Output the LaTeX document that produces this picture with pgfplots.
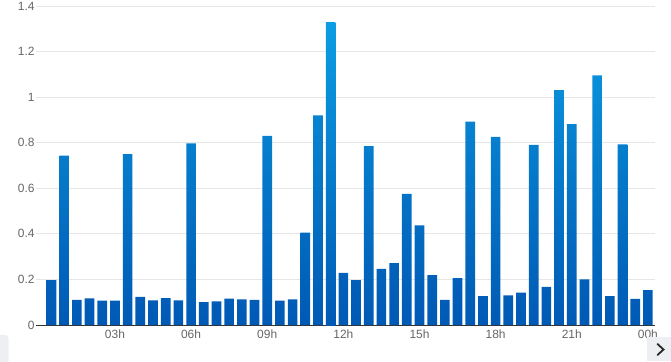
\documentclass[border=0pt]{standalone}
\usepackage{pgfplots}
\pgfplotsset{compat=1.18}
\usepackage{fontspec}
\setmainfont{Liberation Sans}
\definecolor{cLow}{HTML}{005AB5}
\definecolor{cHigh}{HTML}{0C9DE3}
\definecolor{gridc}{HTML}{E6E6E6}
\definecolor{labc}{HTML}{666666}
\definecolor{axc}{HTML}{333333}
\definecolor{btn}{HTML}{EDEFF2}
\colorlet{topA}{cHigh!12!cLow}
\colorlet{topB}{cHigh!36!cLow}
\colorlet{topC}{cHigh!62!cLow}
\colorlet{topD}{cHigh!80!cLow}
\colorlet{topE}{cHigh}
\begin{document}
\begin{tikzpicture}[x=1bp,y=1bp]
\useasboundingbox (0,0) rectangle (671,361);
\begin{axis}[
  at={(36bp,36bp)}, anchor=south west,
  scale only axis, width=619bp, height=319bp,
  xmin=-0.11, xmax=24.28, ymin=0, ymax=1.4,
  axis x line*=bottom, axis y line*=left,
  x axis line style={draw=axc, line width=0.9pt, -},
  y axis line style={draw=none},
  tick style={draw=none},
  xtick={3,6,9,12,15,18,21,24},
  xticklabels={03h,06h,09h,12h,15h,18h,21h,00h},
  ytick={0,0.2,0.4,0.6,0.8,1,1.2,1.4},
  yticklabels={0,0.2,0.4,0.6,0.8,1,1.2,1.4},
  ymajorgrids, grid style={draw=gridc, line width=0.8pt},
  tick label style={font=\fontsize{12}{14}\selectfont, text=labc},
  yticklabel style={anchor=east, xshift=2bp},
  xticklabel style={anchor=north, yshift=-1bp},
  clip=false,
]
\addplot[ybar, bar width=0.38, bar shift=0pt, draw=none, bottom color=cLow, top color=topA] coordinates {
(0.5,0.197) (1.5,0.11) (2.0,0.117) (2.5,0.107) (3.0,0.107) (4.0,0.123)
(4.5,0.108) (5.0,0.118) (5.5,0.108) (6.5,0.100) (7.0,0.104) (7.5,0.116)
(8.0,0.113) (8.5,0.110) (9.5,0.107) (10.0,0.113) (12.0,0.229) (12.5,0.197)
(13.5,0.246) (14.0,0.272) (15.5,0.219) (16.0,0.110) (16.5,0.206) (17.5,0.127)
(18.5,0.130) (19.0,0.142) (20.0,0.167) (21.5,0.200) (22.5,0.127) (23.5,0.115)
(24.0,0.153)};
\addplot[ybar, bar width=0.38, bar shift=0pt, draw=none, bottom color=cLow, top color=topB] coordinates {
(10.5,0.405) (14.5,0.575) (15.0,0.437)};
\addplot[ybar, bar width=0.38, bar shift=0pt, draw=none, bottom color=cLow, top color=topC] coordinates {
(1.0,0.743) (3.5,0.75) (6.0,0.797) (9.0,0.83) (11.0,0.92) (13.0,0.785)
(17.0,0.893) (18.0,0.826) (19.5,0.79) (21.0,0.882) (23.0,0.793)};
\addplot[ybar, bar width=0.38, bar shift=0pt, draw=none, bottom color=cLow, top color=topD] coordinates {
(20.5,1.031) (22.0,1.096)};
\addplot[ybar, bar width=0.38, bar shift=0pt, draw=none, bottom color=cLow, top color=topE] coordinates {
(11.5,1.326)};
\end{axis}
% scroll widgets
\fill[btn, rounded corners=3bp] (-6,-4) rectangle (8.5,26);
\fill[btn] (647,0) rectangle (671,24);
\draw[black!85, line width=1.8bp, line cap=round, line join=miter] (657.5,17) -- (663.5,11.5) -- (657.5,6);
\end{tikzpicture}
\end{document}
